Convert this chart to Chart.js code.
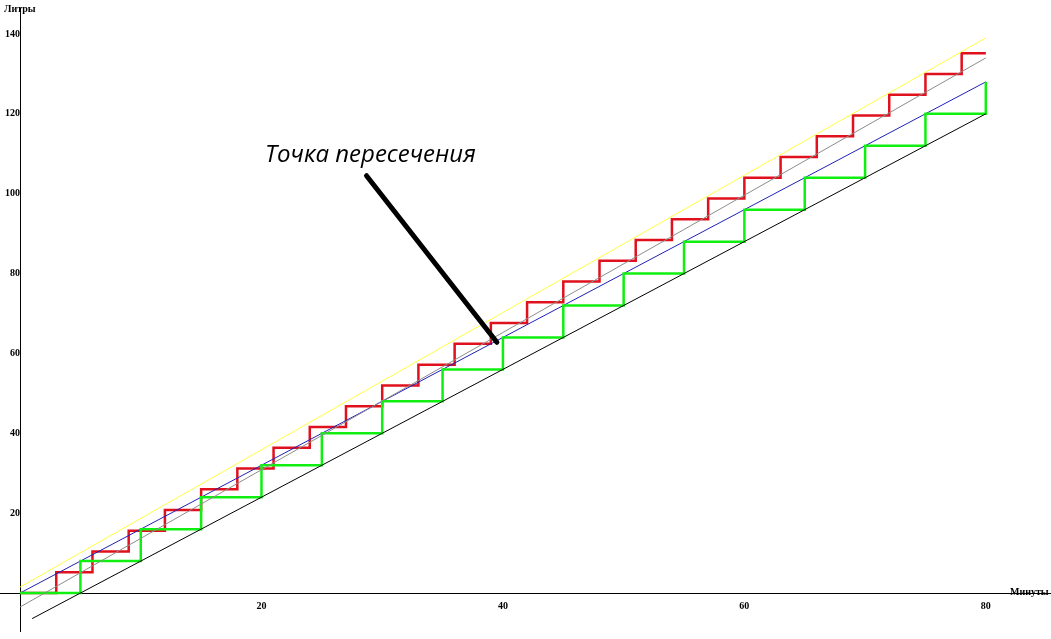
<!DOCTYPE html>
<html><head><meta charset="utf-8">
<script src="https://cdn.jsdelivr.net/npm/chart.js@4"></script>
<style>html,body{margin:0;padding:0;background:#fff}#w{width:1051px;height:639px}</style>
</head><body><div id="w"><canvas id="c"></canvas></div>
<script>
const redTimes=[0,3,6,9,12,15,18,21,24,27,30,33,36,39,42,45,48,51,54,57,60,63,66,69,72,75,78,80];
const redLiters=[0,5.2,10.4,15.6,20.8,26,31.2,36.4,41.6,46.8,52,57.2,62.4,67.6,72.8,78,83.2,88.4,93.6,98.8,104,109.2,114.4,119.6,124.8,130,135.2,135.2];
const greenTimes=[0,5,10,15,20,25,30,35,40,45,50,55,60,65,70,75,80];
const greenLiters=[0,8,16,24,32,40,48,56,64,72,80,88,96,104,112,120,128];
const yellowLine=[[0,1.5],[80,139]];
const grayLine=[[0,-3.5],[80,134]];
const blueLine=[[0,0],[80,128]];
const blackLine=[[1,-6.4],[80,120]];
const arrowLine=[[28.7,104.5],[39.5,62.8]];
const annotationText="Точка пересечения";
const annotationPos=[20.3,108];
const xTicks=[5,10,15,20,25,30,35,40,45,50,55,60,65,70,75,80];
const yTicks=[-5,5,10,15,20,25,30,35,40,45,50,55,60,65,70,75,80,85,90,95,100,105,110,115,120,125,130,135,140];
const xLabel="Минуты", yLabel="Литры";

const pts=(xs,ys)=>xs.map((x,i)=>({x,y:ys[i]}));
const pr=a=>a.map(p=>({x:p[0],y:p[1]}));
const plug={id:'ann',afterDraw(ch){
  const c=ch.ctx,xs=ch.scales.x,ys=ch.scales.y;
  c.save();
  c.strokeStyle='#000';c.lineWidth=5;c.lineCap='round';
  c.beginPath();c.moveTo(xs.getPixelForValue(arrowLine[0][0]),ys.getPixelForValue(arrowLine[0][1]));
  c.lineTo(xs.getPixelForValue(arrowLine[1][0]),ys.getPixelForValue(arrowLine[1][1]));c.stroke();
  c.fillStyle='#000';c.font='italic 24px "Open Sans"';c.textBaseline='alphabetic';
  c.fillText(annotationText,xs.getPixelForValue(annotationPos[0]),ys.getPixelForValue(annotationPos[1]));
  c.font='bold 10px "Liberation Serif"';
  c.fillText(yLabel,xs.getPixelForValue(0)-16,ys.getPixelForValue(145.5));
  c.fillText(xLabel,xs.getPixelForValue(82),ys.getPixelForValue(-0.5));
  c.restore();
}};
const ds=(data,color,w,extra)=>Object.assign({data,borderColor:color,borderWidth:w,pointRadius:0,fill:false,tension:0},extra||{});
new Chart(document.getElementById('c'),{
  type:'line',
  data:{datasets:[
    ds(pr(yellowLine),'#ffff40',1),
    ds(pr(grayLine),'#8c8c8c',1),
    ds(pr(blackLine),'#000',1),
    ds(pts(greenTimes,greenLiters),'#10f010',2.5,{stepped:'before'}),
    ds(pr(blueLine),'#2020b8',1),
    ds(pts(redTimes,redLiters),'#e0101c',2.5,{stepped:'before'})
  ]},
  options:{responsive:true,maintainAspectRatio:false,animation:false,
    layout:{padding:0},
    plugins:{legend:{display:false},tooltip:{enabled:false}},
    scales:{
      x:{type:'linear',min:-1.66,max:85.4,position:{y:0},
        afterBuildTicks:a=>{a.ticks=xTicks.map(v=>({value:v}));},
        grid:{display:false,drawOnChartArea:false,drawTicks:true,tickLength:4,color:'#000'},
        border:{display:true,color:'#000'},
        ticks:{autoSkip:false,maxRotation:0,padding:3,color:'#000',font:{family:'Liberation Serif',size:10,weight:'bold'},callback:v=>v%20===0?v:''}},
      y:{type:'linear',min:-9.5,max:146.5,position:{x:0},
        afterBuildTicks:a=>{a.ticks=yTicks.map(v=>({value:v}));},
        grid:{display:false,drawOnChartArea:false,drawTicks:true,tickLength:4,color:'#000'},
        border:{display:true,color:'#000'},
        ticks:{autoSkip:false,padding:2,color:'#000',font:{family:'Liberation Serif',size:10,weight:'bold'},callback:v=>(v%20===0&&v>0)?v:''}}
    }},
  plugins:[plug]
});
</script></body></html>
